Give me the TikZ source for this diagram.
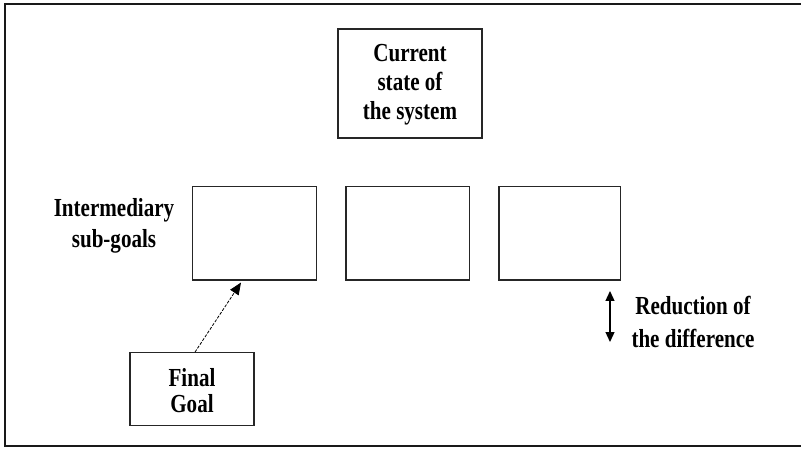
\documentclass[tikz,border=0pt]{standalone}
\usepackage{fontspec}
\setmainfont{Liberation Serif}[FakeStretch=0.81]
\usetikzlibrary{arrows.meta,calc}
\begin{document}
\begin{tikzpicture}[x=1pt,y=-1pt,
  box/.style={draw=black!85, line width=1.2pt, inner sep=0pt},
  lbl/.style={align=center, font=\fontsize{26}{30}\selectfont\bfseries},
  frameline/.style={draw=black!90, line width=2.8pt},
  pointer/.style={-{Triangle[length=12pt,width=10pt]}, line width=0.8pt, dash pattern=on 3pt off 1.5pt},
  scale arrow/.style={{Triangle[length=10pt,width=9pt]}-{Triangle[length=10pt,width=9pt]}, line width=1.3pt}]
  \useasboundingbox (0,0) rectangle (801,449);
  % open frame: left, top and bottom edges
  \draw[frameline] (801,4) -- (5,4) -- (5,446) -- (801,446);
  % current state
  \node[box, minimum width=144pt, minimum height=109pt] (cur) at (410,83.5) {};
  \node[lbl, font=\fontsize{26}{29}\selectfont\bfseries] (curtext) at ($(cur.center)+(0,1.5)$)
    {Current\\state of\\the system};
  % intermediary sub-goal boxes
  \node[box, minimum width=124.4pt, minimum height=93.3pt] (s1) at (254.5,233.3) {};
  \node[box, minimum width=123.3pt, minimum height=93.3pt] (s2) at (407.7,233.3) {};
  \node[box, minimum width=121.7pt, minimum height=93.3pt] (s3) at (559.8,233.3) {};
  \node[lbl, font=\fontsize{26}{31}\selectfont\bfseries] (inter) at (114,226) {Intermediary\\sub-goals};
  % final goal
  \node[box, minimum width=124pt, minimum height=73pt] (fg) at (192,389.2) {};
  \node[lbl, font=\fontsize{26}{26}\selectfont\bfseries] (fgtext) at ($(fg.center)+(0,1.5)$) {Final\\Goal};
  \draw[pointer] ($(fg.north)+(3,0)$) -- ($(s1.south)+(-13.5,2)$);
  % reduction of the difference
  \coordinate (rtop) at (610,291);
  \coordinate (rbot) at (610,342);
  \draw[scale arrow] (rtop) -- (rbot);
  \node[lbl, font=\fontsize{26}{33}\selectfont\bfseries] (red) at (693,322) {Reduction of\\the difference};
\end{tikzpicture}
\end{document}
